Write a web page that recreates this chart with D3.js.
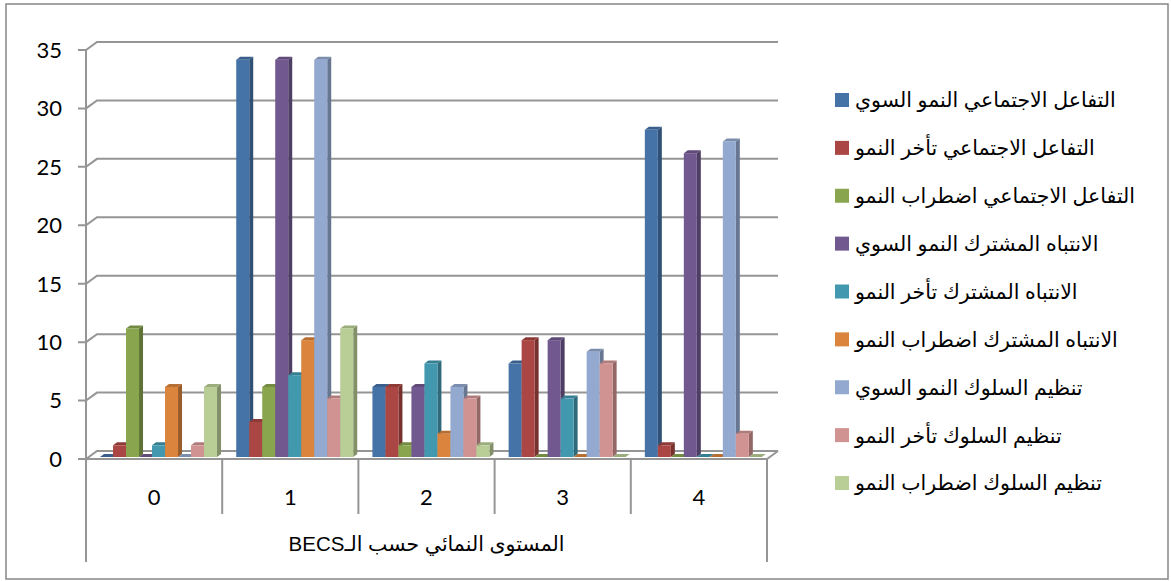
<!DOCTYPE html>
<html lang="ar">
  <head>
    <meta charset="utf-8" />
    <title>المستوى النمائي حسب الـBECS</title>
    <script src="https://d3js.org/d3.v7.min.js"></script>
    <style>
      body {
        margin: 0;
        background: white;
      }
      .num {
        font-family: "Lato", sans-serif;
        font-size: 22px;
        fill: #000;
      }
      .ar {
        font-family: Arial, "DejaVu Sans", sans-serif;
        font-size: 20.5px;
        fill: #000;
      }
      .grid {
        stroke: #959595;
        stroke-width: 2;
        fill: none;
      }
    </style>
  </head>
  <body>
    <svg width="1171" height="581"></svg>
    <script>
      const categories = ["0", "1", "2", "3", "4"];
      const yTicks = [0, 5, 10, 15, 20, 25, 30, 35];

      const seriesNames = [
        "التفاعل الاجتماعي النمو السوي",
        "التفاعل الاجتماعي تأخر النمو",
        "التفاعل الاجتماعي اضطراب النمو",
        "الانتباه المشترك النمو السوي",
        "الانتباه المشترك تأخر النمو",
        "الانتباه المشترك اضطراب النمو",
        "تنظيم السلوك النمو السوي",
        "تنظيم السلوك تأخر النمو",
        "تنظيم السلوك اضطراب النمو",
      ];
      const colours = [
        "#4572A7", "#AA4643", "#89A54E",
        "#71588F", "#4198AF", "#DB843D",
        "#93A9CF", "#D19392", "#B9CD96",
      ];

      // one array per series, values per category 0..4
      const socialNormal = [0, 34, 6, 8, 28];
      const socialDelay = [1, 3, 6, 10, 1];
      const socialDisorder = [11, 6, 1, 0, 0];
      const attentionNormal = [0, 34, 6, 10, 26];
      const attentionDelay = [1, 7, 8, 5, 0];
      const attentionDisorder = [6, 10, 2, 0, 0];
      const behaviourNormal = [0, 34, 6, 9, 27];
      const behaviourDelay = [1, 5, 5, 8, 2];
      const behaviourDisorder = [6, 11, 1, 0, 0];

      const seriesValues = [
        socialNormal, socialDelay, socialDisorder,
        attentionNormal, attentionDelay, attentionDisorder,
        behaviourNormal, behaviourDelay, behaviourDisorder,
      ];

      const plot = { left: 86, right: 767, top: 50, bottom: 459 };
      const wall = { dx: 11, dy: -8 }; // depth of the back wall
      const barDepth = { dx: 4, dy: -3 };

      const svg = d3.select("svg");

      // outer frame
      svg
        .append("rect")
        .attr("x", 6)
        .attr("y", 4)
        .attr("width", 1162)
        .attr("height", 575)
        .attr("fill", "white")
        .attr("stroke", "#878787")
        .attr("stroke-width", 1.5);

      const y = d3
        .scaleLinear()
        .domain([0, 35])
        .range([plot.bottom, plot.top]);

      const x0 = d3
        .scaleBand()
        .domain(categories)
        .range([plot.left, plot.right])
        .padding(0);

      const bw = x0.bandwidth();
      const x1 = d3
        .scaleBand()
        .domain(d3.range(seriesNames.length))
        .range([bw * 0.103, bw * 0.962])
        .padding(0);

      // gridlines: tick, left-wall diagonal, back wall line
      const grid = svg.append("g").attr("class", "grid");
      yTicks.forEach((t) => {
        const yy = y(t);
        grid
          .append("path")
          .attr(
            "d",
            `M${plot.left - 8},${yy}H${plot.left}L${plot.left + wall.dx},${yy + wall.dy}H${plot.right + wall.dx}`
          );
      });
      // floor front edge and right edge
      grid
        .append("path")
        .attr(
          "d",
          `M${plot.left},${y(0)}H${plot.right}L${plot.right + wall.dx},${y(0) + wall.dy}`
        );

      // y axis line
      grid
        .append("line")
        .attr("x1", plot.left)
        .attr("x2", plot.left)
        .attr("y1", y(35))
        .attr("y2", 562);
      // right edge of category table
      grid
        .append("line")
        .attr("x1", plot.right)
        .attr("x2", plot.right)
        .attr("y1", y(0))
        .attr("y2", 562);
      // category dividers
      grid
        .selectAll(".div")
        .data(categories.slice(1))
        .join("line")
        .attr("x1", (d) => x0(d))
        .attr("x2", (d) => x0(d))
        .attr("y1", y(0))
        .attr("y2", 514);

      // y tick labels
      svg
        .append("g")
        .selectAll("text")
        .data(yTicks)
        .join("text")
        .attr("class", "num")
        .attr("x", 62)
        .attr("y", (d) => y(d))
        .attr("dy", "0.36em")
        .attr("text-anchor", "end")
        .text((d) => d);

      // category labels
      svg
        .append("g")
        .selectAll("text")
        .data(categories)
        .join("text")
        .attr("class", "num")
        .attr("x", (d) => x0(d) + bw / 2)
        .attr("y", 497)
        .attr("dy", "0.36em")
        .attr("text-anchor", "middle")
        .text((d) => d);

      // axis title (right-to-left so BECS ends up on the left)
      svg
        .append("text")
        .attr("class", "ar")
        .attr("direction", "rtl")
        .attr("x", (plot.left + plot.right) / 2)
        .attr("y", 544)
        .attr("dy", "0.36em")
        .attr("text-anchor", "middle")
        .text("المستوى النمائي حسب الـBECS");

      // 3D bars, drawn left to right so the next front face hides the side
      const bars = [];
      categories.forEach((c, ci) => {
        seriesValues.forEach((vals, si) => {
          bars.push({ cat: c, s: si, value: vals[ci] });
        });
      });

      const base = y(0) - 2;
      const bg = svg.append("g");
      bars.forEach((b) => {
        const left = x0(b.cat) + x1(b.s);
        const w = x1.bandwidth();
        const top = y(b.value) - 2;
        const col = d3.color(colours[b.s]);
        const g = bg.append("g");
        // side face
        g.append("path")
          .attr(
            "d",
            `M${left + w},${top}L${left + w + barDepth.dx},${top + barDepth.dy}V${base + barDepth.dy}L${left + w},${base}Z`
          )
          .attr("fill", col.darker(1).formatHex());
        // top face
        g.append("path")
          .attr(
            "d",
            `M${left},${top}L${left + barDepth.dx},${top + barDepth.dy}H${left + w + barDepth.dx}L${left + w},${top}Z`
          )
          .attr("fill", col.darker(0.5).formatHex());
        // front face
        g.append("rect")
          .attr("x", left)
          .attr("y", top)
          .attr("width", w)
          .attr("height", base - top)
          .attr("fill", col.formatHex());
      });

      // legend, clipped at its right edge like the original
      svg
        .append("clipPath")
        .attr("id", "legend-clip")
        .append("rect")
        .attr("x", 820)
        .attr("y", 60)
        .attr("width", 318)
        .attr("height", 460);

      const legend = svg.append("g").attr("clip-path", "url(#legend-clip)");
      const legendY = d3
        .scalePoint()
        .domain(d3.range(seriesNames.length))
        .range([100, 483]);

      legend
        .selectAll("rect")
        .data(seriesNames)
        .join("rect")
        .attr("x", 835)
        .attr("y", (d, i) => legendY(i) - 7)
        .attr("width", 14)
        .attr("height", 14)
        .attr("fill", (d, i) => colours[i]);

      legend
        .selectAll("text")
        .data(seriesNames)
        .join("text")
        .attr("class", "ar")
        .attr("x", 855)
        .attr("y", (d, i) => legendY(i))
        .attr("dy", "0.36em")
        .attr("text-anchor", "start")
        .text((d) => d);
    </script>
  </body>
</html>
